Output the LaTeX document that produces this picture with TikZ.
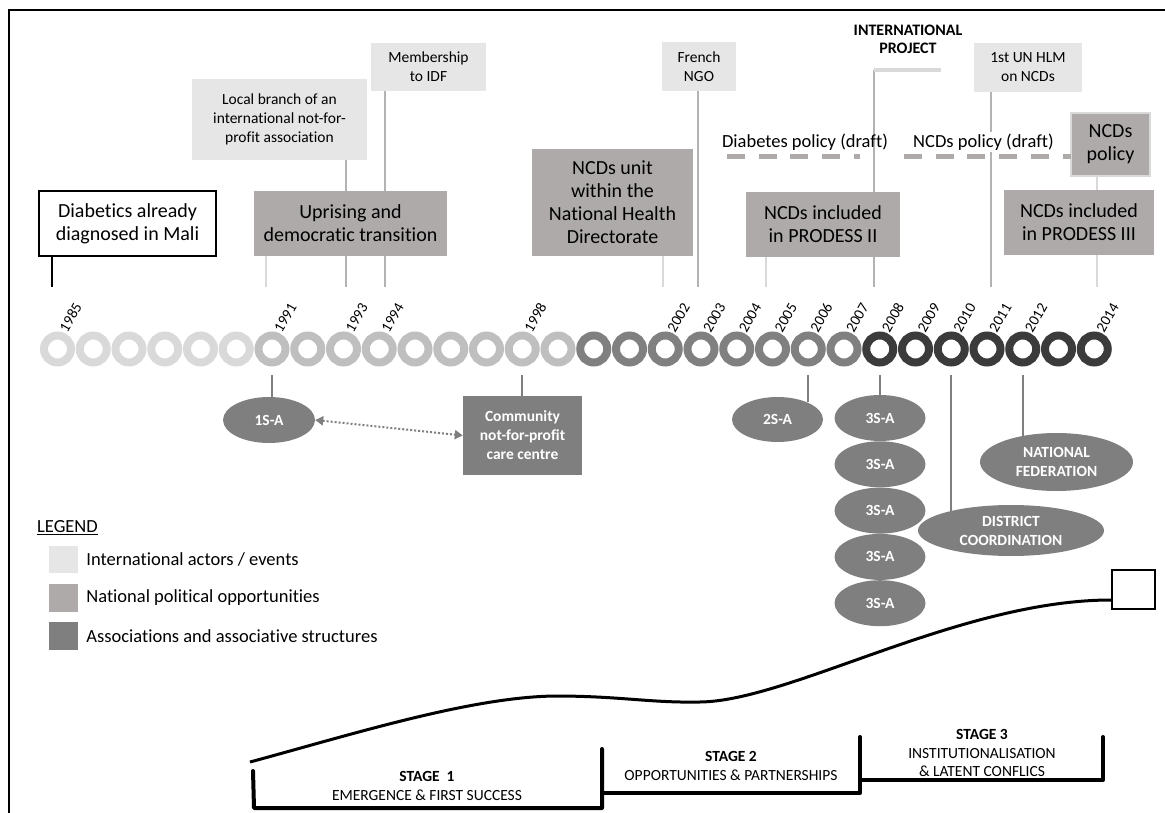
\documentclass[tikz,border=0pt]{standalone}
\usepackage{fontspec}
\setmainfont{Carlito}[Ligatures=NoCommon]
\usetikzlibrary{calc, positioning, shapes.geometric, arrows.meta, backgrounds}
\definecolor{intl}{HTML}{E7E6E6}
\definecolor{natl}{HTML}{AEAAAA}
\definecolor{assoc}{HTML}{7F7F7F}
\definecolor{ringA}{HTML}{D9D9D9}
\definecolor{ringB}{HTML}{BFBFBF}
\definecolor{ringC}{HTML}{808080}
\definecolor{ringD}{HTML}{3B3B3B}
\definecolor{tickhi}{HTML}{B3B3B3}
\definecolor{ticklo}{HTML}{D9D9D9}

\begin{document}
\begin{tikzpicture}[x=1pt, y=-1pt,
    every node/.style={font=\fontsize{20}{23}\selectfont, text=black, align=center, inner sep=0pt},
    intbox/.style={fill=intl, font=\fontsize{15.5}{19}\selectfont},
    natbox/.style={fill=natl},
    assocell/.style={ellipse, fill=assoc, text=white, font=\fontsize{15.5}{19}\selectfont\bfseries},
    ring/.style={circle, draw, line width=8pt, minimum size=27pt},
    yearlbl/.style={font=\fontsize{15}{15}\selectfont, rotate=60, anchor=south west},
    hiline/.style={tickhi, line width=2pt},
    loline/.style={ticklo, line width=2pt},
    assocline/.style={assoc, line width=2pt},
    policy/.style={natl, line width=5pt, dash pattern=on 18pt off 13.7pt},
    polnote/.style={font=\fontsize{18.5}{20}\selectfont},
    legtxt/.style={font=\fontsize{18.5}{20}\selectfont, anchor=west},
    stagetxt/.style={font=\fontsize{15.5}{18.5}\selectfont},
    bracket/.style={line width=4pt, line join=round, line cap=round}
  ]
    \useasboundingbox (0,0) rectangle (1165,813);
    \draw[line width=2.5pt] (1166,10) -- (9,10) -- (9,814);

    % boxes above the timeline
    \node[draw=black, line width=2.5pt, fill=white, minimum width=177pt, minimum height=65pt] (diag) at (127.5, 223.5) {Diabetics already\\diagnosed in Mali};
    \node[natbox, minimum width=193pt, minimum height=65pt] (upr) at (350.5, 223.5) {Uprising and\\democratic transition};
    \node[intbox, minimum width=175pt, minimum height=81pt] (loc) at (279.5, 119.5) {Local branch of an\\international not-for-\\profit association};
    \node[intbox, minimum width=115pt, minimum height=48pt] (mem) at (428.5, 67) {Membership\\to IDF};
    \node[natbox, minimum width=161pt, minimum height=107pt] (unit) at (612.5, 202.5) {NCDs unit\\within the\\National Health\\Directorate};
    \node[intbox, minimum width=74pt, minimum height=49pt] (ngo) at (699, 66.5) {French\\NGO};
    \node[natbox, minimum width=154pt, minimum height=65pt] (prod2) at (823, 224.5) {NCDs included\\in PRODESS II};
    \node[font=\fontsize{16}{18}\selectfont\bfseries] (iproj) at (908, 39) {INTERNATIONAL\\PROJECT};
    \node[intbox, minimum width=108pt, minimum height=49pt] (hlm) at (1028, 67.5) {1st UN HLM\\on NCDs};
    \node[natbox, draw=ticklo, line width=2pt, minimum width=79pt, minimum height=63pt] (pol) at (1110.5, 144.5) {NCDs\\policy};
    \node[natbox, minimum width=150pt, minimum height=65pt] (prod3) at (1079, 222.5) {NCDs included\\in PRODESS III};
    \node[polnote] (dpol) at (805, 142) {Diabetes policy (draft)};
    \node[polnote, fill=white, inner sep=2pt] (npol) at (983.5, 142) {NCDs policy (draft)};

    % draft policies
    \coordinate (dp1) at (727, 157);
    \coordinate (dp2) at (860, 157);
    \coordinate (np1) at (904, 157);
    \coordinate (np2) at (1071, 157);
    \draw[policy] (dp1) -- (dp2);
    \draw[policy] (np1) -- (np2);

    % tick ends above the rings
    \coordinate (k1985) at (52, 287);
    \coordinate (k1991) at (266, 287);
    \coordinate (k1993) at (346, 287);
    \coordinate (k1994) at (385, 287);
    \coordinate (k2002) at (663, 287);
    \coordinate (k2003) at (698, 287);
    \coordinate (k2005) at (766, 287);
    \coordinate (k2008) at (874, 287);
    \coordinate (k2011) at (991, 287);
    \coordinate (k2014) at (1097, 287);
    \coordinate (ipl) at (874, 70);
    \coordinate (ipr) at (941, 70);

    \begin{scope}[on background layer]
      \draw[line width=2.5pt] (diag.south -| k1985) -- (k1985);
      \draw[loline] (upr.south -| k1991) -- (k1991);
      \draw[hiline] (loc.south -| k1993) -- (k1993);
      \draw[hiline] (mem.south -| k1994) -- (k1994);
      \draw[loline] (unit.south -| k2002) -- (k2002);
      \draw[hiline] (ngo.south -| k2003) -- (k2003);
      \draw[loline] (prod2.south -| k2005) -- (k2005);
      \draw[hiline] (ipl) -- (k2008);
      \draw[hiline] (hlm.south -| k2011) -- (k2011);
      \draw[loline] (pol.south -| k2014) -- (k2014);
    \end{scope}
    \draw[ticklo, line width=4pt] (ipl) -- (ipr);

    % timeline rings
    \foreach \yr in {1985,...,1990}
      \node[ring, draw=ringA] (r\yr) at ({57.5+(\yr-1985)*35.75}, 349) {};
    \foreach \yr in {1991,...,1999}
      \node[ring, draw=ringB] (r\yr) at ({57.5+(\yr-1985)*35.75}, 349) {};
    \foreach \yr in {2000,...,2007}
      \node[ring, draw=ringC] (r\yr) at ({57.5+(\yr-1985)*35.75}, 349) {};
    \foreach \yr in {2008,...,2014}
      \node[ring, draw=ringD] (r\yr) at ({57.5+(\yr-1985)*35.75}, 349) {};
    \foreach \yr in {1985,1991,1993,1994,1998,2002,2003,2004,2005,2006,2007,2008,2009,2010,2011,2012,2014}
      \node[yearlbl] (l\yr) at ([xshift=10pt, yshift=-2pt]r\yr.north) {\yr};

    % associations below the timeline
    \node[assocell, minimum width=92pt, minimum height=46pt] (s1a) at (269, 420) {1S-A};
    \node[fill=assoc, text=white, font=\fontsize{15.5}{19}\selectfont\bfseries, minimum width=119pt, minimum height=79pt] (comm) at (522.5, 435.5) {Community\\not-for-profit\\care centre};
    \node[assocell, minimum width=91pt, minimum height=45pt] (s2a) at (777.5, 419.5) {2S-A};
    \foreach \k in {1,...,5}
      \node[assocell, minimum width=91pt, minimum height=46pt] (s3a\k) at (880, {418+(\k-1)*46.3}) {3S-A};
    \node[assocell, minimum width=186pt, minimum height=51pt] (dist) at (1011, 530.5) {DISTRICT\\COORDINATION};
    \node[assocell, minimum width=153pt, minimum height=58pt] (fed) at (1056.5, 462) {NATIONAL\\FEDERATION};

    \draw[assocline] ([yshift=-8pt]r1991.south) -- (r1991 |- s1a.north);
    \draw[assocline] ([yshift=-8pt]r1998.south) -- (r1998 |- comm.north);
    \draw[assocline] ([yshift=-8pt]r2006.south) -- (r2006 |- s2a.30);
    \draw[assocline] ([yshift=-8pt]r2008.south) -- (r2008 |- s3a1.north);
    \draw[assocline] ([yshift=-8pt]r2010.south) -- (r2010 |- dist.162);
    \draw[assocline] ([yshift=-8pt]r2012.south) -- (r2012 |- fed.142);
    \draw[assoc, line width=2pt, dash pattern=on 2pt off 2pt, {Triangle[length=8pt, width=9pt]}-{Triangle[length=8pt, width=9pt]}] (s1a.east) -- (comm.west);

    % legend
    \node[legtxt] (leg) at (37, 528) {\underline{LEGEND}};
    \node[fill=intl, minimum width=29pt, minimum height=27pt] (lg1) at (63.5, 559.5) {};
    \node[fill=natl, minimum width=29pt, minimum height=28pt] (lg2) at (63.5, 598) {};
    \node[fill=assoc, minimum width=29pt, minimum height=28pt] (lg3) at (63.5, 636) {};
    \node[legtxt, right=8pt of lg1] {International actors / events};
    \node[legtxt, right=8pt of lg2] {National political opportunities};
    \node[legtxt, right=8pt of lg3] {Associations and associative structures};

    % stages
    \node[draw=black, line width=2pt, fill=white, minimum width=43pt, minimum height=39pt] (goal) at (1133.5, 589.5) {};
    \coordinate (crv) at (250, 762);
    \draw[line width=3pt] (crv) .. controls (350,735) and (470,697) .. (555,696)
      .. controls (620,696) and (650,703) .. (700,702)
      .. controls (790,701) and (960,600) .. (goal.west |- 0,600);
    \draw[bracket] (253,771) -- (254,808) -- (602,808) -- (602,749);
    \draw[bracket] (602,793) -- (860,793) -- (860,737);
    \draw[bracket] (860,780) -- (1103,780) -- (1103,737);
    \node[stagetxt] (st1) at (427, 786) {\textbf{STAGE\ \ 1}\\EMERGENCE \& FIRST SUCCESS};
    \node[stagetxt] (st2) at (731, 766) {\textbf{STAGE 2}\\OPPORTUNITIES \& PARTNERSHIPS};
    \node[stagetxt] (st3) at (982, 753) {\textbf{STAGE 3}\\INSTITUTIONALISATION\\\& LATENT CONFLICS};
  \end{tikzpicture}
\end{document}
